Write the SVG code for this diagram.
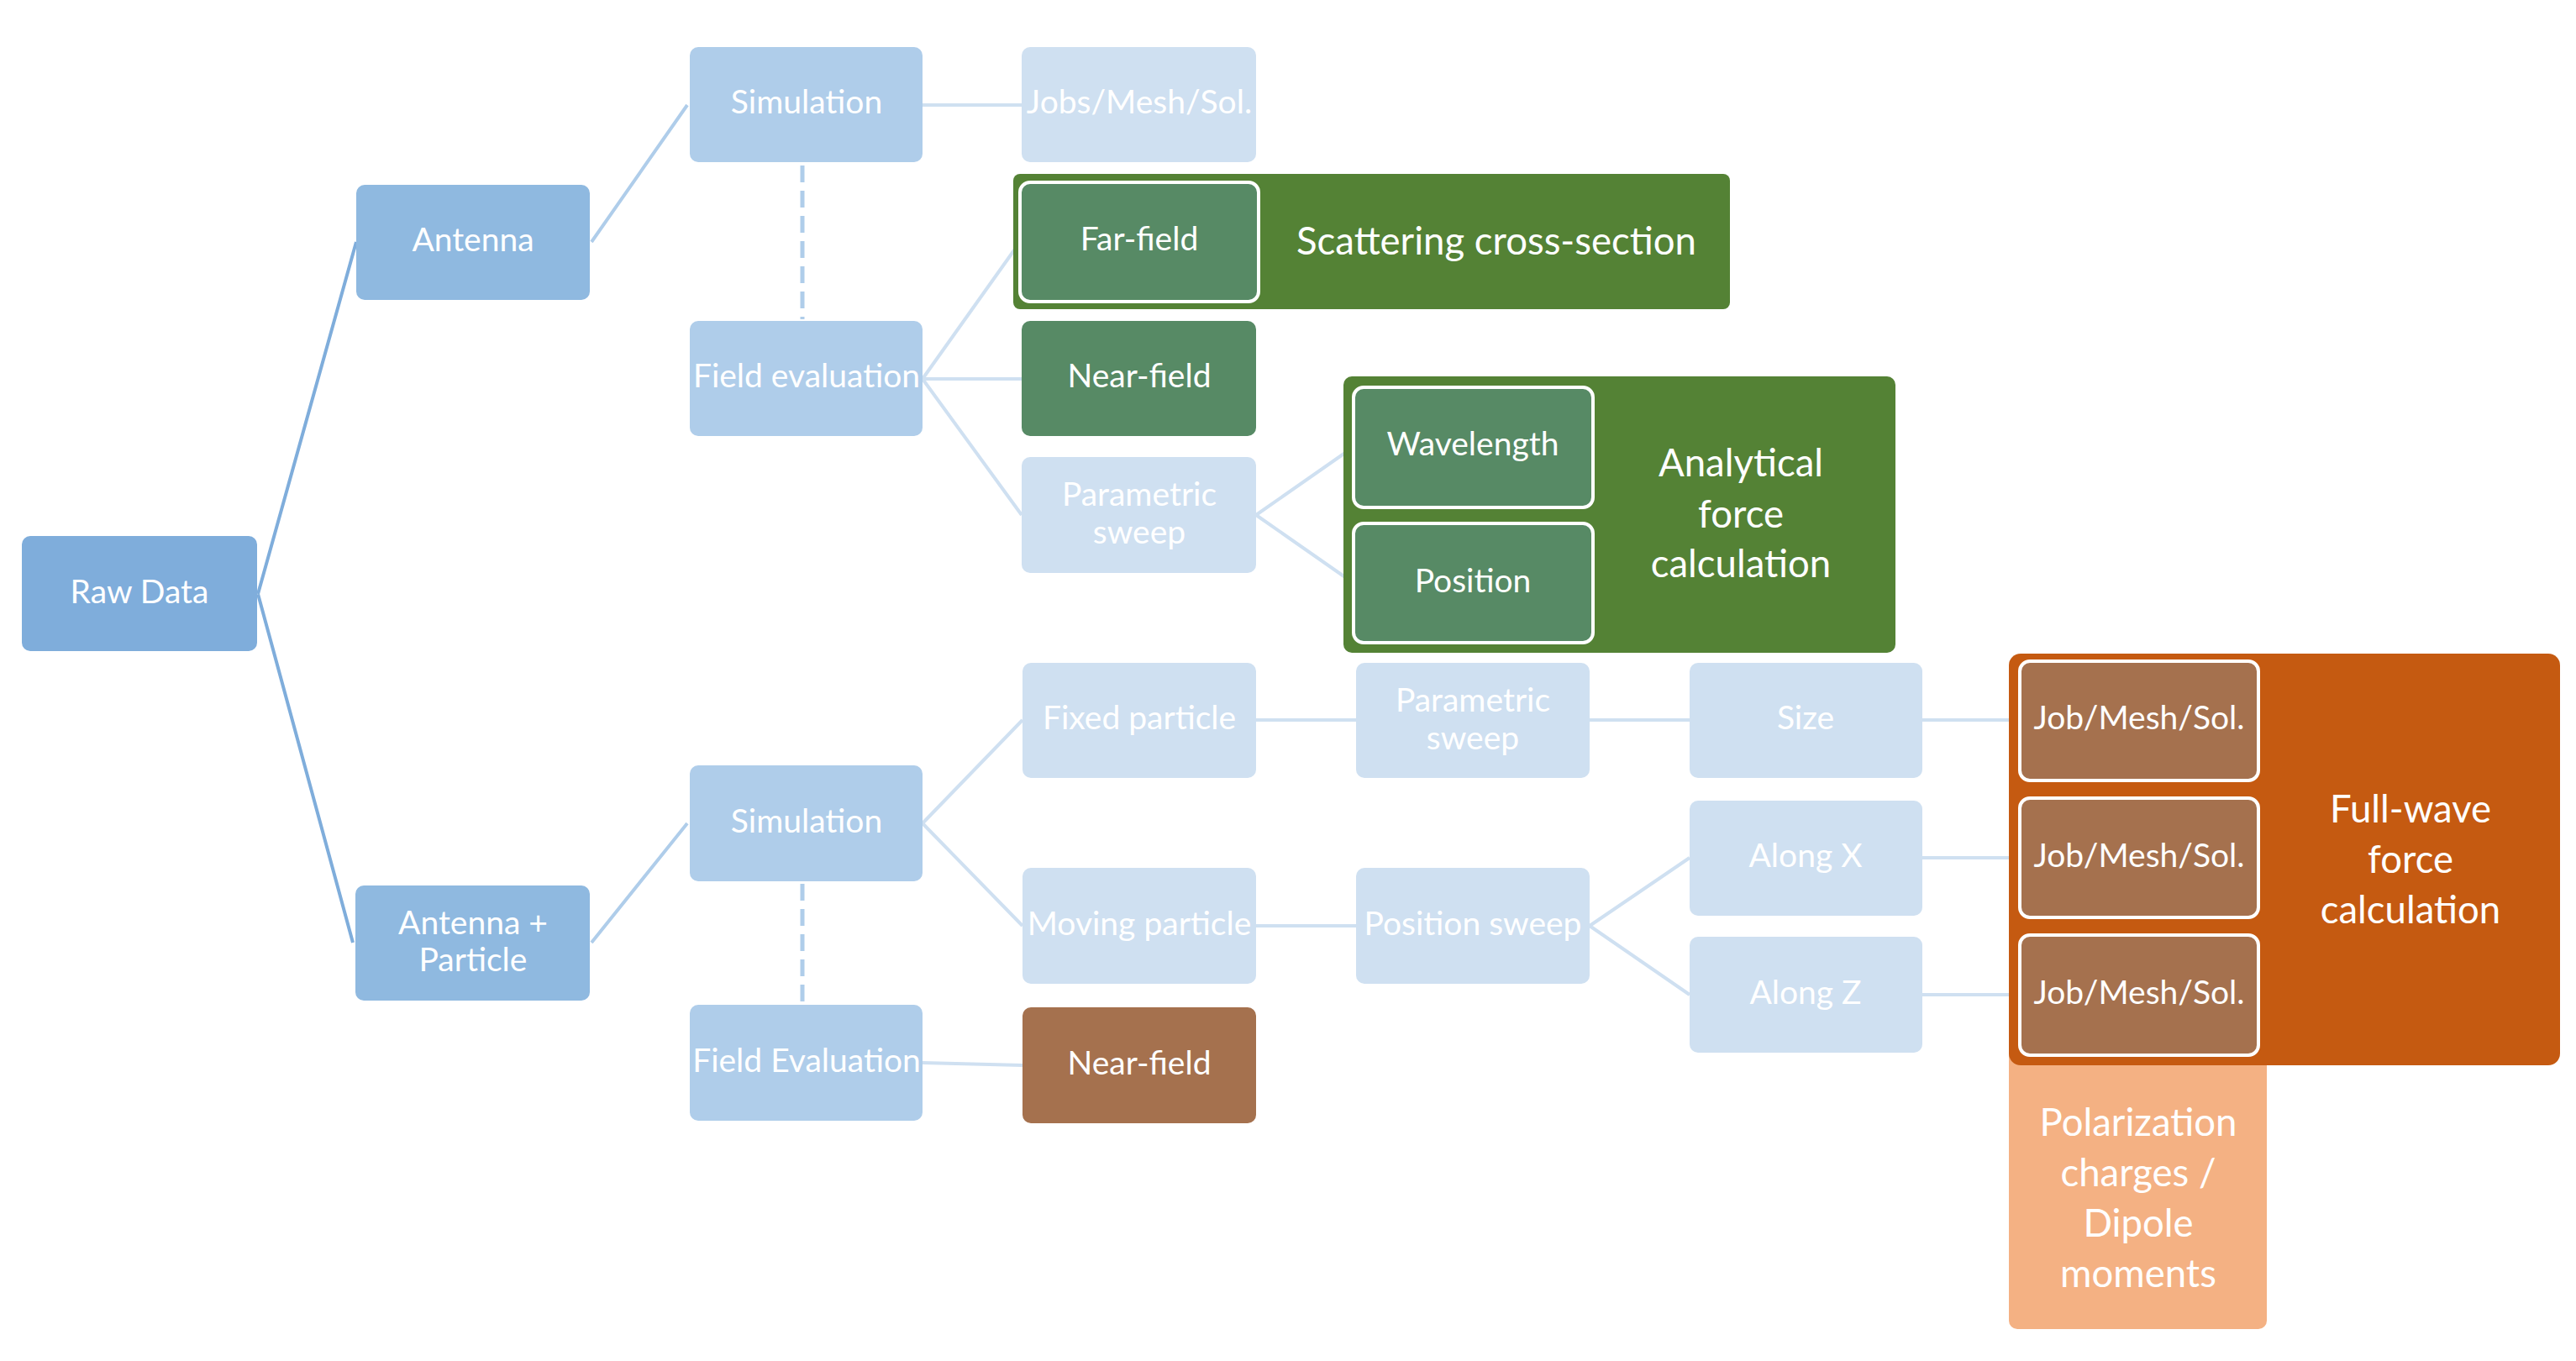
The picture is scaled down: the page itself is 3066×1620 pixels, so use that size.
<svg xmlns="http://www.w3.org/2000/svg" width="3066" height="1620" viewBox="0 0 3066 1620">
<style>
text{font-family:Lato,"Open Sans","Liberation Sans",sans-serif;fill:#fff;text-anchor:middle;dominant-baseline:central}
.t{font-size:39px}
.b{font-size:45.5px}
.l0{fill:#7FADDB}
.l1{fill:#8FB9E0}
.l2{fill:#AFCDEA}
.l3{fill:#CFE0F1}
.g{fill:#548235}
.gi{fill:#578A65;stroke:#fff;stroke-width:4}
.br{fill:#A5714E}
.bri{fill:#A5714E;stroke:#fff;stroke-width:4}
.or{fill:#C55A11}
.pe{fill:#F4B183}
.c0{stroke:#7FADDB;stroke-width:4;fill:none}
.c1{stroke:#AFCDEA;stroke-width:4;fill:none}
.c2{stroke:#CFE0F1;stroke-width:4;fill:none}
.d{stroke:#AFCDEA;stroke-width:5;stroke-dasharray:20 10;fill:none}
</style>
<g id="connectors">
<path class="c0" d="M307,707 L424,288 M307,707 L420,1122"/>
<path class="c1" d="M704,288 L818,125 M704,1122 L818,980"/>
<path class="d" d="M955,197 V380 M955,1052 V1197"/>
<path class="c2" d="M1098,125 H1216"/>
<path class="c2" d="M1098,451 L1214,288 M1098,451 L1216,451 M1098,451 L1216,613"/>
<path class="c2" d="M1495,613 L1611,532 M1495,613 L1611,694"/>
<path class="c2" d="M1098,980 L1217,857 M1098,980 L1217,1102"/>
<path class="c2" d="M1495,857 H1614 M1892,857 H2011 M2288,857 H2404"/>
<path class="c2" d="M1495,1102 H1614 M1892,1102 L2011,1021 M1892,1102 L2011,1184 M2288,1021 H2404 M2288,1184 H2404"/>
<path class="c2" d="M1098,1265 L1217,1268"/>
</g>
<g id="raw-data"><rect class="l0" x="26" y="638" width="280" height="137" rx="10"/><text class="t" x="166" y="703">Raw Data</text></g>
<g id="antenna"><rect class="l1" x="424" y="220" width="278" height="137" rx="10"/><text class="t" x="563" y="284">Antenna</text></g>
<g id="simulation-top"><rect class="l2" x="821" y="56" width="277" height="137" rx="10"/><text class="t" x="960" y="120">Simulation</text></g>
<g id="field-evaluation-top"><rect class="l2" x="821" y="382" width="277" height="137" rx="10"/><text class="t" x="960" y="446">Field evaluation</text></g>
<g id="jobs-mesh-sol"><rect class="l3" x="1216" y="56" width="279" height="137" rx="10"/><text class="t" x="1356" y="120">Jobs/Mesh/Sol.</text></g>
<g id="scattering-group"><rect class="g" x="1206" y="207" width="853" height="161" rx="8"/><text class="b" x="1781" y="285">Scattering cross-section</text></g>
<g id="far-field"><rect class="gi" x="1214" y="217" width="284" height="142" rx="12"/><text class="t" x="1356" y="283">Far-field</text></g>
<g id="near-field-top"><rect class="gi" style="stroke:none" x="1216" y="382" width="279" height="137" rx="10"/><text class="t" x="1356" y="446">Near-field</text></g>
<g id="parametric-sweep-top"><rect class="l3" x="1216" y="544" width="279" height="138" rx="10"/><text class="t" x="1356" y="587">Parametric</text><text class="t" x="1356" y="632">sweep</text></g>
<g id="analytical-group"><rect class="g" x="1599" y="448" width="657" height="329" rx="10"/><text class="b" x="2072" y="549">Analytical</text><text class="b" x="2072" y="610">force</text><text class="b" x="2072" y="669">calculation</text></g>
<g id="wavelength"><rect class="gi" x="1611" y="461" width="285" height="143" rx="12"/><text class="t" x="1753" y="527">Wavelength</text></g>
<g id="position"><rect class="gi" x="1611" y="623" width="285" height="142" rx="12"/><text class="t" x="1753" y="690">Position</text></g>
<g id="antenna-particle"><rect class="l1" x="423" y="1054" width="279" height="137" rx="10"/><text class="t" x="563" y="1097">Antenna +</text><text class="t" x="563" y="1141">Particle</text></g>
<g id="simulation-bottom"><rect class="l2" x="821" y="911" width="277" height="138" rx="10"/><text class="t" x="960" y="976">Simulation</text></g>
<g id="field-evaluation-bottom"><rect class="l2" x="821" y="1196" width="277" height="138" rx="10"/><text class="t" x="960" y="1261">Field Evaluation</text></g>
<g id="fixed-particle"><rect class="l3" x="1217" y="789" width="278" height="137" rx="10"/><text class="t" x="1356" y="853">Fixed particle</text></g>
<g id="moving-particle"><rect class="l3" x="1217" y="1033" width="278" height="138" rx="10"/><text class="t" x="1356" y="1098">Moving particle</text></g>
<g id="near-field-bottom"><rect class="br" x="1217" y="1199" width="278" height="138" rx="10"/><text class="t" x="1356" y="1264">Near-field</text></g>
<g id="parametric-sweep-bottom"><rect class="l3" x="1614" y="789" width="278" height="137" rx="10"/><text class="t" x="1753" y="832">Parametric</text><text class="t" x="1753" y="877">sweep</text></g>
<g id="position-sweep"><rect class="l3" x="1614" y="1033" width="278" height="138" rx="10"/><text class="t" x="1753" y="1098">Position sweep</text></g>
<g id="size"><rect class="l3" x="2011" y="789" width="277" height="137" rx="10"/><text class="t" x="2149" y="853">Size</text></g>
<g id="along-x"><rect class="l3" x="2011" y="953" width="277" height="137" rx="10"/><text class="t" x="2149" y="1017">Along X</text></g>
<g id="along-z"><rect class="l3" x="2011" y="1115" width="277" height="138" rx="10"/><text class="t" x="2149" y="1180">Along Z</text></g>
<g id="polarization"><rect class="pe" x="2391" y="1240" width="307" height="342" rx="10"/><text class="b" x="2545" y="1334">Polarization</text><text class="b" x="2545" y="1394">charges /</text><text class="b" x="2545" y="1454">Dipole</text><text class="b" x="2545" y="1514">moments</text></g>
<g id="full-wave-group"><rect class="or" x="2391" y="778" width="656" height="490" rx="14"/><text class="b" x="2869" y="961">Full-wave</text><text class="b" x="2869" y="1021">force</text><text class="b" x="2869" y="1081">calculation</text></g>
<g id="job1"><rect class="bri" x="2404" y="787" width="284" height="142" rx="12"/><text class="t" x="2546" y="853">Job/Mesh/Sol.</text></g>
<g id="job2"><rect class="bri" x="2404" y="950" width="284" height="142" rx="12"/><text class="t" x="2546" y="1017">Job/Mesh/Sol.</text></g>
<g id="job3"><rect class="bri" x="2404" y="1113" width="284" height="143" rx="12"/><text class="t" x="2546" y="1180">Job/Mesh/Sol.</text></g>
</svg>
